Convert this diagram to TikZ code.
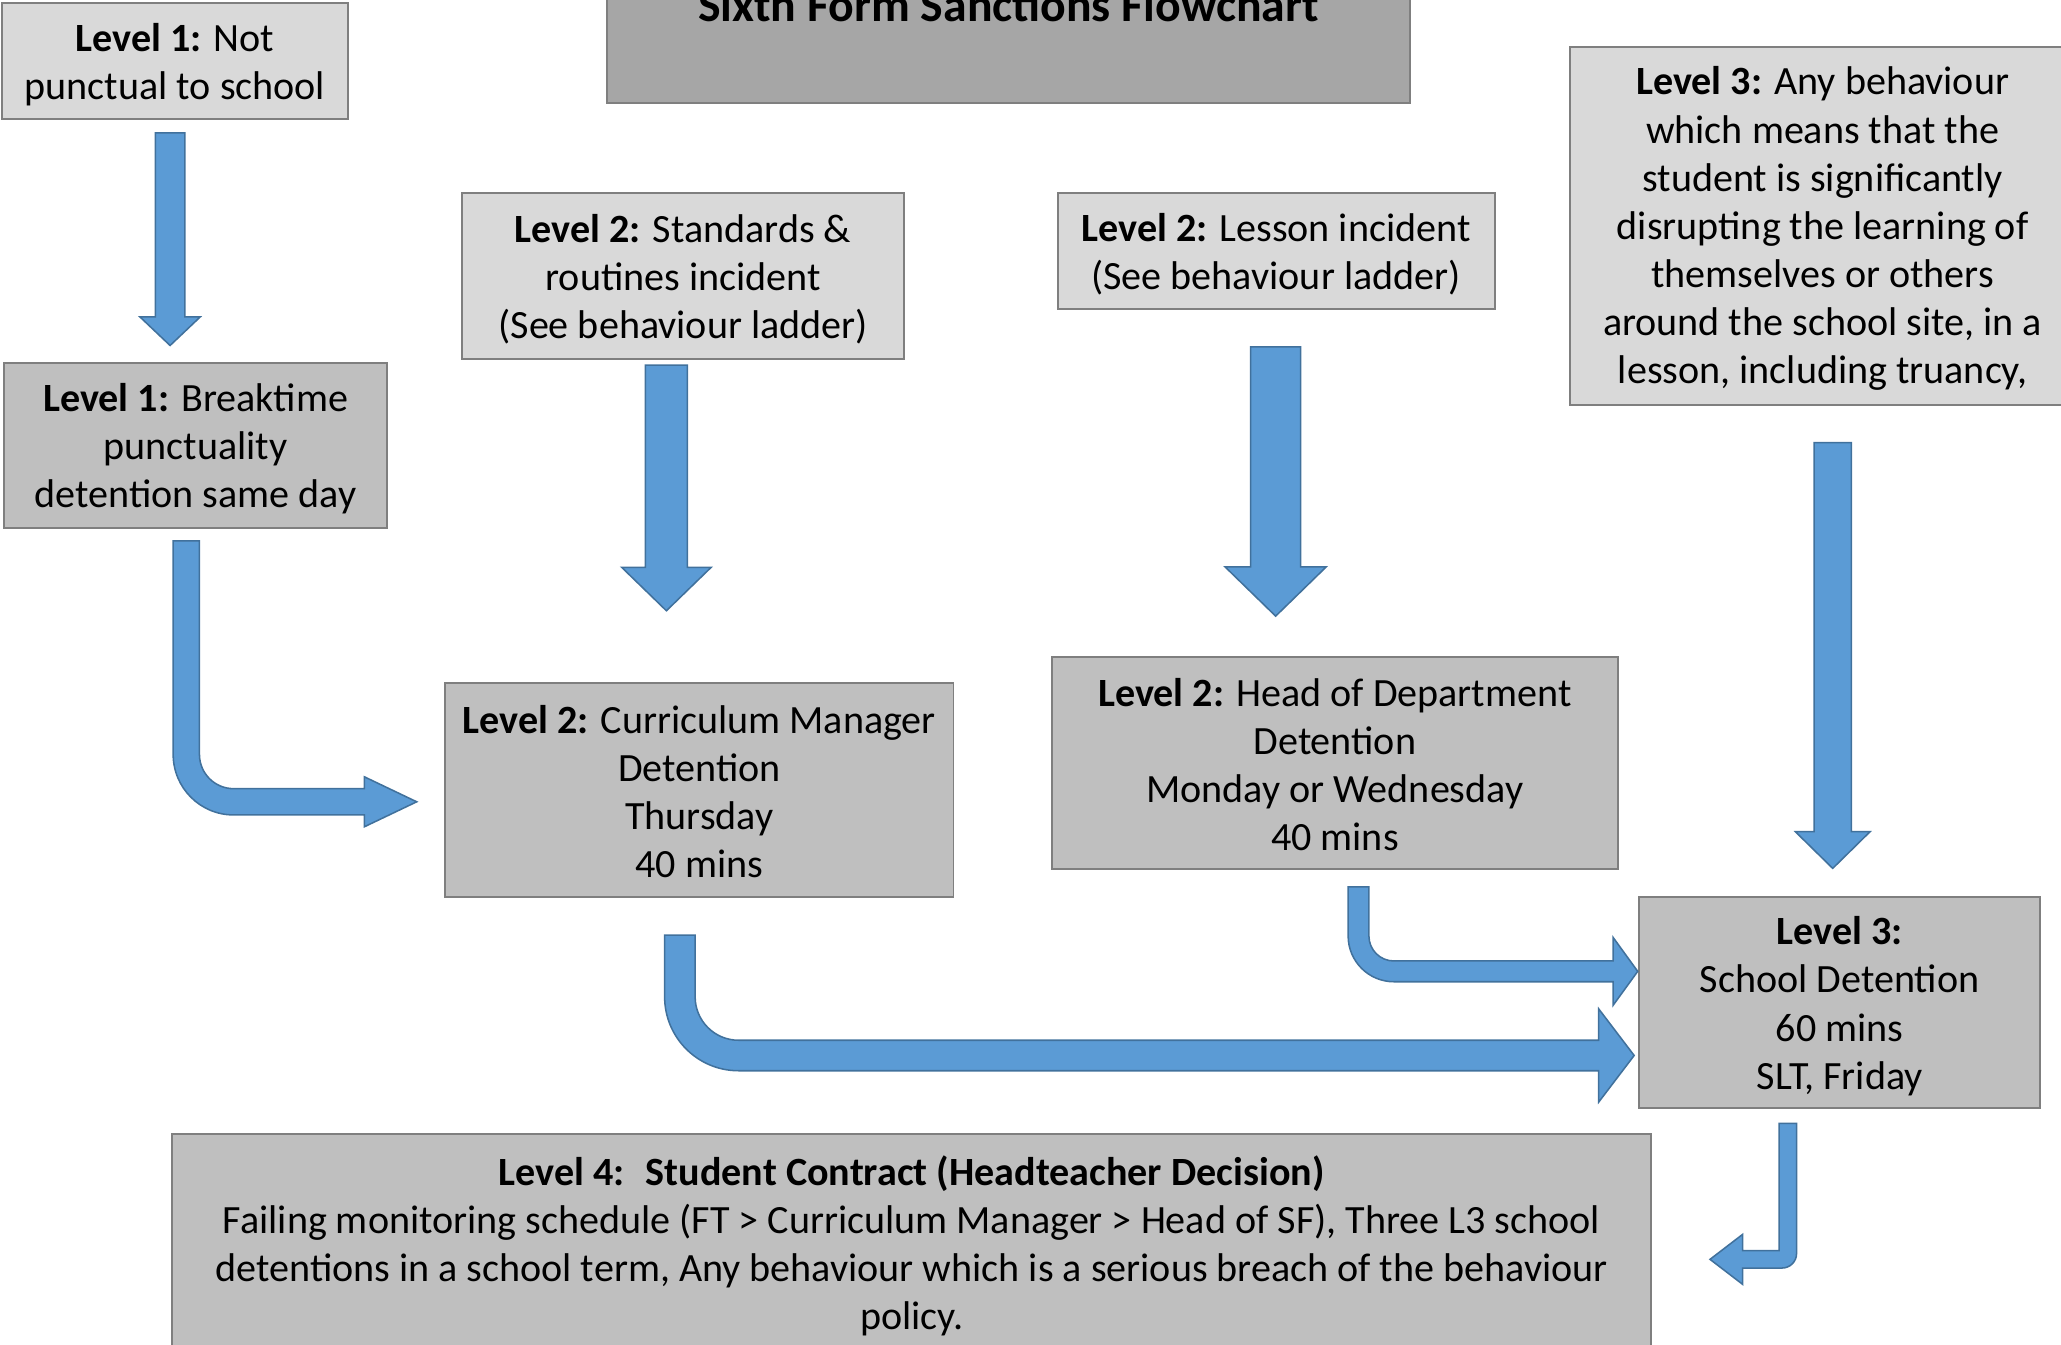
\documentclass[tikz,border=0pt]{standalone}
\usepackage{fontspec}
\setmainfont{Carlito}
\usetikzlibrary{calc}
\definecolor{boxlight}{HTML}{D9D9D9}
\definecolor{boxmid}{HTML}{BFBFBF}
\definecolor{boxdark}{HTML}{A6A6A6}
\definecolor{boxline}{HTML}{7F7F7F}
\definecolor{arrfill}{HTML}{5B9BD5}
\definecolor{arrline}{HTML}{41719C}
\tikzset{
  box/.style={draw=boxline, line width=0.9pt, inner sep=0pt},
  txt/.style={align=center, inner sep=0pt, font=\fontsize{18.3}{21.96}\selectfont},
  blockarrow/.style={fill=arrfill, draw=arrline, line width=0.7pt, line join=miter}
}
% straight downward block arrow: start, tip, half shaft, half head, head length
\newcommand\dnblock[5]{%
  \draw[blockarrow] ($(#1)+(-#3,0)$) -- ($(#1)+(#3,0)$) -- ($(#2)+(#3,-#5)$)
   -- ($(#2)+(#4,-#5)$) -- (#2) -- ($(#2)+(-#4,-#5)$) -- ($(#2)+(-#3,-#5)$) -- cycle;}
% down then right bent block arrow: start, tip, half width, inner radius, head length, half head
\newcommand\bendright[6]{%
  \draw[blockarrow]
   ($(#1)+(-#3,0)$) -- ($(#1)+(#3,0)$)
   -- ($(#1|-#2)+(#3,{-#3-#4})$)
   .. controls ($(#1|-#2)+(#3,{-#3-0.448*#4})$) and ($(#1|-#2)+({#3+0.448*#4},-#3)$) .. ($(#1|-#2)+({#3+#4},-#3)$)
   -- ($(#2)+(-#5,-#3)$) -- ($(#2)+(-#5,-#6)$) -- (#2) -- ($(#2)+(-#5,#6)$) -- ($(#2)+(-#5,#3)$)
   -- ($(#1|-#2)+({#3+#4},#3)$)
   .. controls ($(#1|-#2)+({#3+#4-0.552*(#4+2*#3)},#3)$) and ($(#1|-#2)+(-#3,{#3-0.448*(#4+2*#3)})$) .. ($(#1|-#2)+(-#3,{-#3-#4})$)
   -- cycle;}
% down then left bent block arrow: start, tip, half width, outer radius, head length, half head
\newcommand\bendleft[6]{%
  \draw[blockarrow] ($(#1)+(-#3,0)$) -- ($(#1)+(#3,0)$)
   -- ($(#1|-#2)+(#3,{#3-#4})$)
   .. controls ($(#1|-#2)+(#3,{#3-0.448*#4})$) and ($(#1|-#2)+({#3-0.448*#4},#3)$) .. ($(#1|-#2)+({#3-#4},#3)$)
   -- ($(#2)+(#5,#3)$) -- ($(#2)+(#5,#6)$) -- (#2) -- ($(#2)+(#5,-#6)$) -- ($(#2)+(#5,-#3)$)
   -- ($(#1|-#2)+(-#3,-#3)$) -- cycle;}
\begin{document}
\begin{tikzpicture}[x=0.6pt,y=-0.6pt]
\useasboundingbox (0,0) rectangle (1568,1023);
\clip (0,0) rectangle (1568,1023);

% title
\node[box, fill=boxdark, minimum width=611*0.6pt, minimum height=148*0.6pt,
      font=\fontsize{21.8}{26}\selectfont\bfseries] (title) at (767.2,4.05)
  {Sixth Form Sanctions Flowchart};

% boxes
\node[box, fill=boxlight, minimum width=263*0.6pt, minimum height=88*0.6pt] (n1) at (133.2,46.3) {};
\node[txt] (n1t) at ($(n1.center)+(0,2.6)$) {\textbf{Level 1:} Not\\punctual to school};

\node[box, fill=boxmid, minimum width=292*0.6pt, minimum height=126.2*0.6pt] (n2) at (148.75,338.9) {};
\node[txt] (n2t) at ($(n2.center)+(0,2.6)$) {\textbf{Level 1:} Breaktime\\punctuality\\detention same day};

\node[box, fill=boxlight, minimum width=336.4*0.6pt, minimum height=126.3*0.6pt] (n3) at (519.7,209.85) {};
\node[txt] (n3t) at ($(n3.center)+(0,2.6)$) {\textbf{Level 2:} Standards \&\\routines incident\\(See behaviour ladder)};

\node[box, fill=boxlight, minimum width=332.4*0.6pt, minimum height=88.7*0.6pt] (n4) at (970.8,190.95) {};
\node[txt] (n4t) at ($(n4.center)+(0,2.6)$) {\textbf{Level 2:} Lesson incident\\(See behaviour ladder)};

\node[box, fill=boxlight, minimum width=384.7*0.6pt, minimum height=272.5*0.6pt] (n5) at (1386.65,171.75) {};
\node[txt] (n5t) at ($(n5.center)+(0,2.2)$) {\textbf{Level 3:} Any behaviour\\which means that the\\student is significantly\\disrupting the learning of\\themselves or others\\around the school site, in a\\lesson, including truancy,};

\node[box, fill=boxmid, minimum width=386.7*0.6pt, minimum height=162.8*0.6pt] (n6) at (532.05,600.8) {};
\node[txt] (n6t) at ($(n6.center)+(0,1.6)$) {\textbf{Level 2:} Curriculum Manager\\Detention\\Thursday\\40 mins};

\node[box, fill=boxmid, minimum width=430.3*0.6pt, minimum height=161.3*0.6pt] (n7) at (1015.55,580.25) {};
\node[txt] (n7t) at ($(n7.center)+(0,1.6)$) {\textbf{Level 2:} Head of Department\\Detention\\Monday or Wednesday\\40 mins};

\node[box, fill=boxmid, minimum width=304.9*0.6pt, minimum height=161*0.6pt] (n8) at (1399.65,762.7) {};
\node[txt] (n8t) at ($(n8.center)+(0,2.8)$) {\textbf{Level 3:}\\School Detention\\60 mins\\SLT, Friday};

\node[box, fill=boxmid, minimum width=1124.8*0.6pt, minimum height=165*0.6pt] (n9) at (693.6,945.5) {};
\node[txt] (n9t) at ($(n9.center)+(0,2.4)$) {\textbf{Level 4:~ Student Contract (Headteacher Decision)}\\Failing monitoring schedule (FT > Curriculum Manager > Head of SF), Three L3 school\\detentions in a school term, Any behaviour which is a serious breach of the behaviour\\policy.};

% connector anchor points
\coordinate (a1s) at ($(n1.south)+(-3.8,10.1)$);
\coordinate (a1t) at ($(a1s|-n2.north)+(0,-12.2)$);
\coordinate (a2s) at ($(n2.south)+(-7,8.8)$);
\coordinate (a2t) at ($(n6.west)+(-20.9,9.2)$);
\coordinate (a3s) at ($(n3.south)+(-12.7,4)$);
\coordinate (a3t) at ($(a3s|-n6.north)+(0,-54)$);
\coordinate (a4s) at ($(n4.south)+(-0.3,27.9)$);
\coordinate (a4t) at ($(a4s|-n7.north)+(0,-30.1)$);
\coordinate (a5s) at ($(n5.south)+(7.65,28)$);
\coordinate (a5t) at ($(a5s|-n8.north)+(0,-20.8)$);
\coordinate (a6s) at ($(n7.south)+(18,13.1)$);
\coordinate (a6t) at ($(n8.west)+(-0.5,-23.7)$);
\coordinate (a7s) at ($(n6.south)+(-14.8,28.4)$);
\coordinate (a7t) at ($(n8.west)+(-3.2,40.3)$);
\coordinate (a8s) at ($(n8.south)+(-39.45,10.7)$);
\coordinate (a8t) at ($(n9.east)+(44.2,12.6)$);

% block arrows
\dnblock{a1s}{a1t}{11.2}{23}{21.8}
\bendright{a2s}{a2t}{10}{26}{39.8}{19}
\dnblock{a3s}{a3t}{16}{34}{33}
\dnblock{a4s}{a4t}{19}{38.5}{37.5}
\dnblock{a5s}{a5t}{14.2}{28.4}{27.9}
\bendright{a6s}{a6t}{7.9}{19}{18.7}{25.8}
\bendright{a7s}{a7t}{11.6}{33}{27}{35.5}
\bendleft{a8s}{a8t}{6.6}{11}{24.8}{19}
\end{tikzpicture}
\end{document}
